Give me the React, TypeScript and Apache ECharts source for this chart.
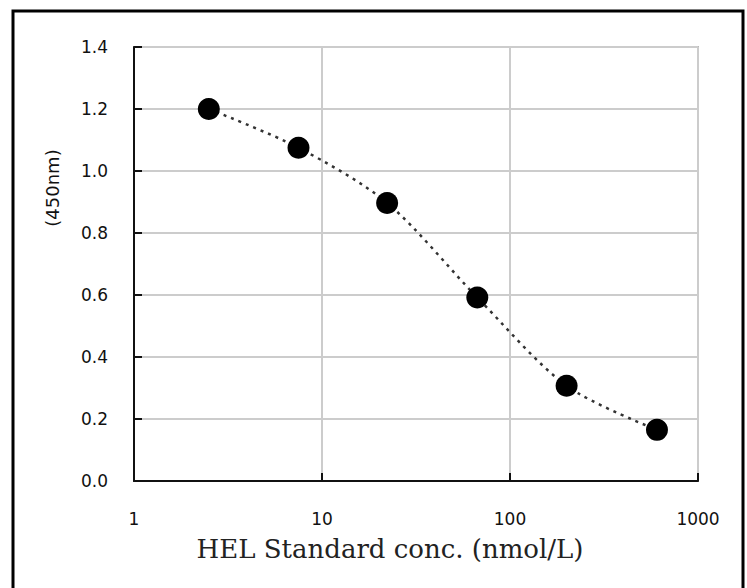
import React, { useEffect, useRef } from "react";
import * as echarts from "echarts";

const concentrations = [2.5, 7.5, 22.2, 67, 200, 605];
const absorbance = [1.2, 1.075, 0.897, 0.592, 0.307, 0.165];
const xTicks = [1, 10, 100, 1000];
const yTicks = [0, 0.2, 0.4, 0.6, 0.8, 1.0, 1.2, 1.4];
const xAxisTitle = "HEL Standard conc. (nmol/L)";
const yAxisTitle = "(450nm)";

export default function App() {
  const ref = useRef<HTMLDivElement>(null);
  useEffect(() => {
    if (!ref.current) return;
    const chart = echarts.init(ref.current, undefined, { renderer: "svg" });
    const data = concentrations.map((c, i) => [c, absorbance[i]]);
    chart.setOption({
      animation: false,
      backgroundColor: "#ffffff",
      grid: {
        left: 134,
        top: 47,
        right: 49,
        bottom: 107,
        show: true,
        borderColor: "#b8b8b8",
        borderWidth: 2,
      },
      xAxis: {
        type: "log",
        logBase: 10,
        min: xTicks[0],
        max: xTicks[xTicks.length - 1],
        axisLine: { show: true, onZero: false, lineStyle: { color: "#111", width: 2 } },
        axisTick: { show: true, inside: true, length: 8, lineStyle: { color: "#111", width: 2 } },
        minorTick: { show: false },
        splitLine: { show: true, lineStyle: { color: "#cccccc", width: 2 } },
        axisLabel: {
          color: "#111",
          fontSize: 17,
          fontFamily: "DejaVu Sans",
          margin: 29,
          formatter: (v: number) => String(Math.round(v)),
        },
      },
      yAxis: {
        type: "value",
        min: yTicks[0],
        max: yTicks[yTicks.length - 1],
        interval: 0.2,
        axisLine: { show: true, lineStyle: { color: "#111", width: 2 } },
        axisTick: { show: true, inside: true, length: 8, lineStyle: { color: "#111", width: 2 } },
        splitLine: { show: true, lineStyle: { color: "#cccccc", width: 2 } },
        axisLabel: {
          color: "#111",
          fontSize: 17,
          fontFamily: "DejaVu Sans",
          margin: 26,
          formatter: (v: number) => v.toFixed(1),
        },
      },
      graphic: [
        {
          type: "rect",
          shape: { x: 13, y: 11, width: 730, height: 600 },
          style: { fill: "none", stroke: "#000", lineWidth: 3 },
          z: 0,
        },
        {
          type: "text",
          x: 390,
          y: 549,
          style: {
            text: xAxisTitle,
            font: "26px 'DejaVu Serif', serif",
            fill: "#222",
            textAlign: "center",
            textVerticalAlign: "middle",
          },
        },
        {
          type: "text",
          x: 52,
          y: 188,
          rotation: Math.PI / 2,
          style: {
            text: yAxisTitle,
            font: "18px 'DejaVu Sans', sans-serif",
            fill: "#111",
            textAlign: "center",
            textVerticalAlign: "middle",
          },
        },
      ],
      series: [
        {
          type: "line",
          data,
          smooth: 0.3,
          symbol: "circle",
          symbolSize: 22,
          itemStyle: { color: "#000" },
          lineStyle: { color: "#333", width: 2.5, type: [3, 5] },
          z: 3,
        },
      ],
    });
    return () => chart.dispose();
  }, []);
  return (
    <div
      ref={ref}
      style={{ position: "fixed", left: 0, top: 0, width: 747, height: 588 }}
    />
  );
}
